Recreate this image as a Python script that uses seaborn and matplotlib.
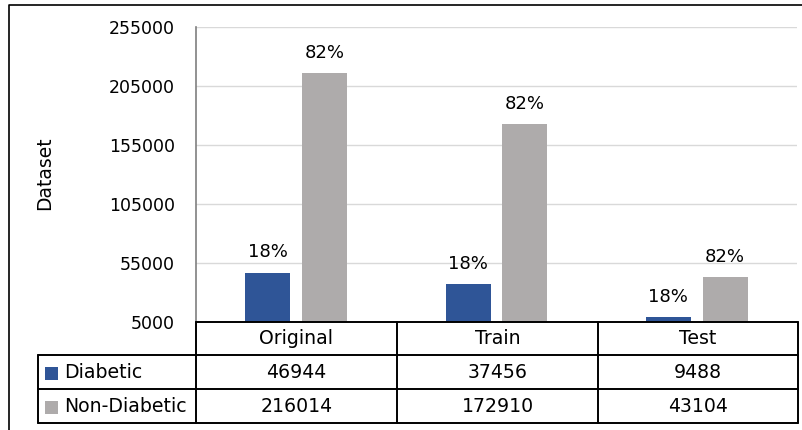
import matplotlib
matplotlib.use("Agg")
import matplotlib.pyplot as plt
from matplotlib.lines import Line2D
from matplotlib.patches import Rectangle
import seaborn as sns
import pandas as pd

categories = ["Original", "Train", "Test"]
series = ["Diabetic", "Non-Diabetic"]
diabetic = [46944, 37456, 9488]
non_diabetic = [216014, 172910, 43104]
yticks = [5000, 55000, 105000, 155000, 205000, 255000]
colors = ["#2F5597", "#AEABAB"]

sns.set_theme(style="white")
plt.rcParams["font.family"] = ["DejaVu Sans"]
plt.rcParams["text.color"] = "black"
FS = 12.5
FT = 13.6

df = pd.DataFrame({
    "Split": categories * 2,
    "Class": [series[0]] * 3 + [series[1]] * 3,
    "Count": diabetic + non_diabetic,
})

W, H = 803, 430
fig = plt.figure(figsize=(W / 100, H / 100), dpi=100)
fig.patch.set_facecolor("white")

def fx(x):
    return x / W

def fy(y):
    return 1 - y / H

ax = fig.add_axes([fx(196), fy(322), fx(797) - fx(196), fy(27) - fy(322)])
sns.barplot(data=df, x="Split", y="Count", hue="Class", palette=colors,
            width=0.567, gap=0.21, ax=ax, legend=False, saturation=1, linewidth=0)
ax.set_xlim(-0.5, 2.5)
ax.set_ylim(yticks[0], yticks[-1])
ax.set_yticks(yticks)
ax.set_yticklabels([str(t) for t in yticks], fontsize=FS, color="black")
ax.tick_params(axis="y", length=0, pad=15)
ax.set_xticks([])
ax.set_xlabel("")
ax.set_ylabel("")
ax.yaxis.grid(True, color="#D9D9D9", linewidth=1)
ax.set_axisbelow(True)
for s in ["top", "right", "bottom"]:
    ax.spines[s].set_visible(False)
ax.spines["left"].set_color("#7F7F7F")
ax.spines["left"].set_linewidth(1.2)

# percentage labels
totals = [d + n for d, n in zip(diabetic, non_diabetic)]
for container, vals in zip(ax.containers, [diabetic, non_diabetic]):
    labels = [f"{round(v / t * 100):d}%" for v, t in zip(vals, totals)]
    ax.bar_label(container, labels=labels, padding=8, fontsize=13, color="black")

fig.text(fx(45), fy(173), "Dataset", rotation=90, ha="center", va="center",
         fontsize=13.5, color="black")

# outer border
fig.add_artist(Line2D([fx(9), fx(9), fx(803)], [fy(430), fy(5), fy(5)],
                      transform=fig.transFigure, color="black", lw=1.2))

# data table
lw = 1.4
def hline(y, x0, x1):
    fig.add_artist(Line2D([fx(x0), fx(x1)], [fy(y), fy(y)], transform=fig.transFigure,
                          color="black", lw=lw))

def vline(x, y0, y1):
    fig.add_artist(Line2D([fx(x), fx(x)], [fy(y0), fy(y1)], transform=fig.transFigure,
                          color="black", lw=lw))

col_edges = [196, 397, 598, 798]
row_edges = [322, 355, 389, 423]
hline(322, 196, 798)
for y in row_edges[1:]:
    hline(y, 38, 798)
vline(38, 355, 423)
for x in col_edges:
    vline(x, 322, 423)

for i, cat in enumerate(categories):
    cx = (col_edges[i] + col_edges[i + 1]) / 2
    fig.text(fx(cx), fy(339), cat, ha="center", va="center", fontsize=FT)
    fig.text(fx(cx), fy(372), str(diabetic[i]), ha="center", va="center", fontsize=FT)
    fig.text(fx(cx), fy(406), str(non_diabetic[i]), ha="center", va="center", fontsize=FT)

for j, (name, col) in enumerate(zip(series, colors)):
    yc = 373 + j * 34
    fig.add_artist(Rectangle((fx(45), fy(yc + 6.5)), fx(13), 13 / H,
                             transform=fig.transFigure, facecolor=col, edgecolor="none"))
    fig.text(fx(64), fy(yc - 1), name, ha="left", va="center", fontsize=FT)

fig.savefig("out.png", dpi=100, facecolor="white")
